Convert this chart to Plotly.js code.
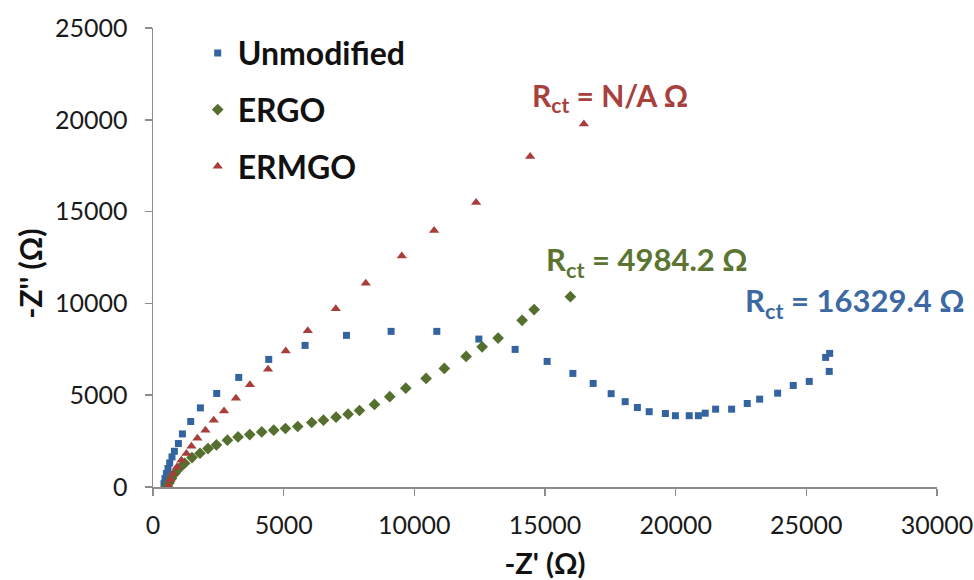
<!DOCTYPE html>
<html>
<head>
<meta charset="utf-8">
<script src="https://cdn.plot.ly/plotly-3.0.1.min.js"></script>
<style>html,body{margin:0;padding:0;background:#fff;}#chart{width:974px;height:580px;}</style>
</head>
<body>
<div id="chart"></div>
<script>
// Unmodified electrode
const unmodX = [421, 459, 513, 574, 639, 727, 819, 972, 1125, 1443, 1814, 2438, 3281, 4429, 5819, 7403, 9111, 10860, 12468, 13857, 15082, 16066, 16843, 17532, 18068, 18535, 18987, 19607, 19990, 20518, 20870, 21131, 21529, 22141, 22739, 23213, 23902, 24499, 25112, 25740, 25893, 25877];
const unmodY = [185, 458, 731, 1004, 1309, 1637, 1947, 2367, 2891, 3568, 4309, 5095, 5968, 6950, 7713, 8259, 8477, 8477, 8057, 7495, 6840, 6186, 5640, 5084, 4648, 4331, 4102, 4004, 3884, 3884, 3884, 4020, 4239, 4239, 4549, 4784, 5111, 5531, 5750, 7059, 7277, 6295];
// ERGO
const ergoX = [536, 612, 704, 831, 995, 1213, 1493, 1799, 2105, 2427, 2848, 3254, 3702, 4161, 4620, 5068, 5539, 6075, 6523, 7005, 7465, 7901, 8475, 9061, 9673, 10450, 11147, 11982, 12594, 13207, 14125, 14585, 15971];
const ergoY = [38, 218, 458, 731, 1004, 1293, 1604, 1838, 2095, 2291, 2548, 2728, 2858, 3000, 3093, 3186, 3295, 3513, 3638, 3802, 3966, 4168, 4495, 4920, 5384, 5913, 6459, 7113, 7637, 8111, 9077, 9666, 10364];
// ERMGO
const ermgoX = [536, 590, 666, 766, 919, 1087, 1279, 1470, 1700, 2006, 2324, 2718, 3173, 3709, 4402, 5080, 5922, 6994, 8142, 9520, 10757, 12364, 14432, 16487];
const ermgoY = [-60, 93, 404, 731, 1091, 1456, 1822, 2220, 2657, 3093, 3639, 4146, 4838, 5564, 6420, 7402, 8510, 9710, 11095, 12585, 13965, 15492, 18002, 19769];

const seriesNames = ['Unmodified', 'ERGO', 'ERMGO'];
const rctLabels = ['R<sub>ct</sub> = 16329.4 Ω', 'R<sub>ct</sub> = 4984.2 Ω', 'R<sub>ct</sub> = N/A Ω'];
const xTitle = "-Z' (Ω)";
const yTitle = "-Z'' (Ω)";

const cBlue = '#33649F', cGreen = '#556F2E', cRed = '#A83E3B';
const FONT = 'Lato, "Liberation Sans", sans-serif';

const traces = [
  {x: unmodX, y: unmodY, name: seriesNames[0], legendgroup: 'a', type: 'scatter', mode: 'markers',
   marker: {symbol: 'square', size: 7, color: cBlue}},
  {x: ergoX, y: ergoY, name: seriesNames[1], legendgroup: 'b', type: 'scatter', mode: 'markers',
   marker: {symbol: 'diamond', size: 9, color: cGreen}},
  {x: ermgoX, y: ermgoY, name: seriesNames[2], legendgroup: 'c', type: 'scatter', mode: 'markers',
   marker: {symbol: 'triangle-up', size: 9, color: cRed}}
];

const layout = {
  width: 974, height: 580,
  margin: {l: 153, r: 37, t: 28, b: 93},
  paper_bgcolor: '#fff', plot_bgcolor: '#fff',
  font: {family: FONT, color: '#1a1a1a'},
  showlegend: true,
  legend: {x: 0.057, y: 1.005, xanchor: 'left', yanchor: 'top', bgcolor: 'rgba(0,0,0,0)',
           font: {family: FONT, size: 32, weight: 'bold', color: '#111'},
           tracegroupgap: 12, itemsizing: 'trace'},
  xaxis: {range: [0, 30000], dtick: 5000, tick0: 0, showgrid: false, zeroline: false,
          showline: true, linecolor: '#8c8c8c', linewidth: 1.5, ticks: 'outside', ticklen: 7,
          tickcolor: '#8c8c8c', tickwidth: 1.5, tickfont: {family: FONT, size: 25, color: '#1a1a1a'},
          tickformat: 'd', ticklabelstandoff: 8,
          title: {text: xTitle, standoff: 18, font: {family: FONT, size: 29, weight: 'bold', color: '#111'}}},
  yaxis: {range: [0, 25000], dtick: 5000, tick0: 0, showgrid: false, zeroline: false,
          showline: true, linecolor: '#8c8c8c', linewidth: 1.5, ticks: 'outside', ticklen: 7,
          tickcolor: '#8c8c8c', tickwidth: 1.5, tickfont: {family: FONT, size: 25, color: '#1a1a1a'},
          tickformat: 'd', ticklabelstandoff: 12},
  annotations: [
    {x: -0.158, y: 0.465, xref: 'paper', yref: 'paper', text: yTitle, textangle: -90, showarrow: false,
     xanchor: 'center', yanchor: 'middle',
     font: {family: FONT, size: 30, weight: 'bold', color: '#111'}},
    {x: 26860, y: 10075, xref: 'x', yref: 'y', text: rctLabels[0], showarrow: false,
     font: {family: FONT, size: 31, weight: 'bold', color: '#3C69A3'}},
    {x: 18899, y: 12257, xref: 'x', yref: 'y', text: rctLabels[1], showarrow: false,
     font: {family: FONT, size: 31, weight: 'bold', color: '#5B7432'}},
    {x: 17500, y: 21258, xref: 'x', yref: 'y', text: rctLabels[2], showarrow: false,
     font: {family: FONT, size: 30, weight: 'bold', color: '#A8403D'}}
  ]
};

Plotly.newPlot('chart', traces, layout, {displayModeBar: false, staticPlot: true});
</script>
</body>
</html>
